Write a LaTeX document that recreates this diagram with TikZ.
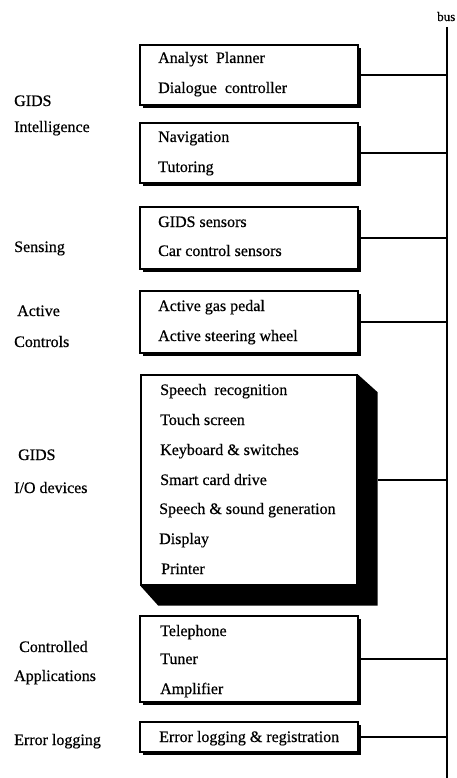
\documentclass[tikz,border=0pt]{standalone}
\usepackage{fontspec}
\setmainfont{Liberation Serif}[FakeBold=0.5]
\usetikzlibrary{shadows}
\begin{document}
\begin{tikzpicture}[x=1pt, y=-1pt,
  font=\fontsize{16}{19}\selectfont,
  gbox/.style={draw, line width=1.4pt, fill=white, inner sep=0pt,
    general shadow={fill=black, shadow xshift=3pt, shadow yshift=-3pt}},
  iobox/.style={draw, line width=1.4pt, fill=white, inner sep=0pt},
  item/.style={anchor=base west, inner sep=0pt},
  lbl/.style={anchor=base west, inner sep=0pt},
  wire/.style={line width=1.5pt},
  busline/.style={line width=2pt}]
\useasboundingbox[fill=white] (0,0) rectangle (456,778);

% bus
\coordinate (bustop) at (447,27);
\coordinate (busbot) at (447,778);
\node[anchor=base east, inner sep=0pt, font=\fontsize{13}{15}\selectfont] (buslbl) at (455.5,21) {bus};
\draw[busline] (bustop) -- (busbot);

% left-hand group labels
\node[lbl] (l1a) at (14,106) {GIDS};
\node[lbl] (l1b) at (14,132) {Intelligence};
\node[lbl] (l2)  at (14,252) {Sensing};
\node[lbl] (l3a) at (17,316) {Active};
\node[lbl] (l3b) at (14,347) {Controls};
\node[lbl] (l4a) at (18,460) {GIDS};
\node[lbl] (l4b) at (14,493) {I/O devices};
\node[lbl] (l5a) at (19,652) {Controlled};
\node[lbl] (l5b) at (14,681) {Applications};
\node[lbl] (l6)  at (14,745) {Error logging};

% module boxes
\node[gbox, minimum width=218, minimum height=60] (b1) at (249,75) {};
\node[gbox, minimum width=218, minimum height=60] (b2) at (249,153) {};
\node[gbox, minimum width=218, minimum height=62] (b3) at (249,238) {};
\node[gbox, minimum width=218, minimum height=62] (b4) at (249,322) {};
\node[iobox, minimum width=216, minimum height=210] (io) at (249,480) {};
\node[gbox, minimum width=218, minimum height=86] (b6) at (249,659) {};
\node[gbox, minimum width=218, minimum height=30] (b7) at (249,737) {};

% solid extrusion of the I/O box
\fill[black] (io.north east) -- ([shift={(20,18)}]io.north east)
  -- ([shift={(20,20)}]io.south east) -- ([shift={(18,20)}]io.south west)
  -- (io.south west) -- (io.south east) -- cycle;

% box contents
\node[item] (t11) at (158,63) {Analyst\ \ Planner};
\node[item] (t12) at (158,93) {Dialogue\ \ controller};
\node[item] (t21) at (158,142) {Navigation};
\node[item] (t22) at (158,172) {Tutoring};
\node[item] (t31) at (158,227) {GIDS sensors};
\node[item] (t32) at (158,256) {Car control sensors};
\node[item] (t41) at (158,311) {Active gas pedal};
\node[item] (t42) at (158,341) {Active steering wheel};
\node[item] (t51) at (160,395) {Speech\ \ recognition};
\node[item] (t52) at (160,425) {Touch screen};
\node[item] (t53) at (160,455) {Keyboard \& switches};
\node[item] (t54) at (160,485) {Smart card drive};
\node[item] (t55) at (159,514) {Speech \& sound generation};
\node[item] (t56) at (159,544) {Display};
\node[item] (t57) at (161,574) {Printer};
\node[item] (t61) at (160,636) {Telephone};
\node[item] (t62) at (160,664) {Tuner};
\node[item] (t63) at (160,694) {Amplifier};
\node[item] (t71) at (159,742) {Error logging \& registration};

% connections to the bus
\foreach \b in {b1,b2,b3,b4,b6,b7}
  \draw[wire] (\b.east) -- (\b.east -| bustop);
\draw[wire] ([xshift=20]io.east) -- (io.east -| bustop);
\end{tikzpicture}
\end{document}
